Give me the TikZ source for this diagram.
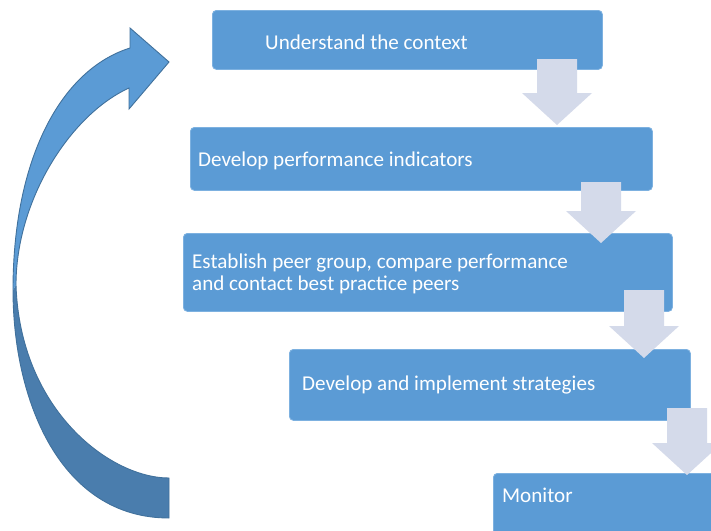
\documentclass[tikz,border=0pt]{standalone}
\usepackage{fontspec}
\setmainfont{Carlito}
\definecolor{boxblue}{HTML}{5B9BD5}
\definecolor{boxedge}{HTML}{7DB1E0}
\definecolor{arrgray}{HTML}{D4DAEA}
\definecolor{curvelight}{HTML}{5B9BD5}
\definecolor{curvedark}{HTML}{4A7DAD}
\definecolor{curveline}{HTML}{41719C}
\newcommand\dnarrow[3]{%
  \fill[arrgray] (#1-20,#2) -- (#1+20,#2) -- (#1+20,#3-32) -- (#1+35,#3-32)
    -- (#1,#3) -- (#1-35,#3-32) -- (#1-20,#3-32) -- cycle;}
\begin{document}
\begin{tikzpicture}[x=1pt,y=-1pt,
  box/.style={fill=boxblue, draw=boxedge, line width=0.8pt, rounded corners=4pt,
    inner sep=0pt, anchor=north west},
  lbl/.style={text=white, font=\fontsize{21.1}{22}\selectfont, inner sep=0pt,
    anchor=base west, align=left}]
\clip (0,0) rectangle (711,530);
\fill[white] (0,0) rectangle (711,530);
% curved return arrow
\fill[curvedark] (169,518) .. controls (60,518) and (13,400) .. (13,290)
  -- (16,285) .. controls (20,410) and (110,478) .. (169,478) -- cycle;
\fill[curvelight] (13,290) .. controls (13,160) and (60,70) .. (130,48)
  -- (130,28) -- (169,62) -- (129,109) -- (129,88)
  .. controls (70,115) and (16,200) .. (16,285) -- cycle;
\draw[curveline, line width=0.9pt, line join=miter]
  (169,518) .. controls (60,518) and (13,400) .. (13,290)
  .. controls (13,160) and (60,70) .. (130,48)
  -- (130,28) -- (169,62) -- (129,109) -- (129,88)
  .. controls (70,115) and (16,200) .. (16,285)
  .. controls (20,410) and (110,478) .. (169,478) -- cycle;
% boxes
\node[box, minimum width=390pt, minimum height=59pt] (b1) at (212,10) {};
\node[box, minimum width=462pt, minimum height=63pt] (b2) at (190,127) {};
\node[box, minimum width=489pt, minimum height=78pt] (b3) at (183,233) {};
\node[box, minimum width=401pt, minimum height=71pt] (b4) at (289,349) {};
\node[box, minimum width=240pt, minimum height=70pt] (b5) at (493,473) {};
% step arrows
\dnarrow{557}{59}{125}
\dnarrow{601}{182}{243}
\dnarrow{644}{290}{358}
\dnarrow{687}{408}{475}
% labels
\node[lbl] (t1) at (265,49) {Understand the context};
\node[lbl] (t2) at (198,166) {Develop performance indicators};
\node[lbl] (t3) at (192,290) {Establish peer group, compare performance\\and contact best practice peers};
\node[lbl] (t4) at (302,390) {Develop and implement strategies};
\node[lbl] (t5) at (502,502) {Monitor};
\end{tikzpicture}
\end{document}
